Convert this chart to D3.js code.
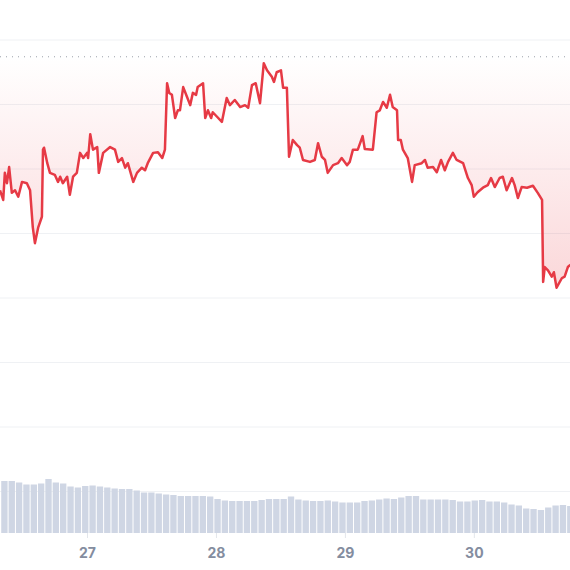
<!DOCTYPE html>
<html>
<head>
<meta charset="utf-8">
<script src="https://cdn.jsdelivr.net/npm/d3@7"></script>
<style>
	body { margin: 0; background: #fff; }
	svg { display: block; }
	.tick text { font-family: Inter, "Open Sans", sans-serif; font-weight: 700; font-size: 14px; fill: #848d9f; }
</style>
</head>
<body>
<svg id="chart"></svg>
<script>
// price series, time in hours since the 26th 00:00
var hours = [7.8, 8.4, 8.7, 9.1, 9.5, 10.0, 10.6, 11.2, 11.9, 12.8, 13.4, 13.9, 14.3, 14.9, 15.6, 15.8, 16.0, 16.6, 17.1, 18.0,
	18.6, 19.0, 19.5, 20.3, 20.8, 21.4, 22.1, 22.7, 23.3, 24.0, 24.2, 24.6, 25.1, 25.9, 26.2, 27.0, 28.3, 29.2, 29.8, 30.5,
	31.1, 31.6, 32.6, 33.3, 34.2, 34.8, 35.3, 36.3, 37.2, 38.0, 38.5, 38.9, 39.3, 39.8, 40.4, 40.9, 41.3, 41.9, 42.6, 43.2,
	43.7, 44.3, 44.6, 45.6, 46.0, 46.5, 47.1, 47.4, 48.2, 49.1, 50.0, 50.6, 51.5, 52.5, 53.4, 54.0, 54.7, 55.4, 56.2, 56.9,
	57.5, 58.4, 58.8, 59.3, 60.1, 60.5, 61.2, 61.6, 62.3, 63.1, 63.6, 64.2, 65.5, 66.4, 67.0, 67.7, 68.3, 68.8, 69.8, 70.7,
	71.4, 72.4, 72.9, 73.5, 74.4, 75.3, 75.7, 77.2, 77.9, 78.5, 79.1, 79.8, 80.4, 80.9, 81.7, 81.9, 82.4, 82.8, 83.7, 84.5,
	85.0, 86.3, 86.9, 87.4, 88.4, 89.1, 89.9, 90.6, 91.2, 92.1, 92.8, 94.0, 94.9, 95.6, 96.0, 96.7, 97.7, 98.6, 99.2, 99.9,
	100.8, 101.4, 102.1, 103.1, 103.6, 104.2, 104.9, 105.9, 107.0, 107.9, 108.7, 108.9, 109.2, 109.8, 110.5, 110.9, 111.4, 112.4, 112.9, 113.5,
	113.9, 114.4];
var prices = [146.7, 145.2, 149.4, 147.8, 150.3, 146.3, 146.7, 145.7, 148.0, 147.8, 146.7, 141.0, 138.5, 140.9, 142.6, 153.0, 153.3, 150.9, 149.4, 149.1,
	148.0, 148.8, 147.8, 148.8, 146.0, 148.8, 149.4, 152.5, 151.7, 152.5, 151.7, 155.4, 153.0, 153.4, 149.4, 152.5, 153.4, 153.0, 151.1, 151.7,
	150.2, 150.9, 148.0, 149.4, 150.2, 149.8, 150.9, 152.5, 152.6, 151.7, 153.0, 163.3, 161.8, 161.5, 157.9, 159.1, 159.1, 162.7, 161.2, 159.9,
	161.8, 161.5, 162.7, 163.3, 157.9, 159.1, 157.9, 158.8, 158.1, 157.3, 161.0, 159.9, 160.7, 159.6, 159.9, 159.5, 163.0, 163.3, 160.2, 166.4,
	165.3, 164.3, 163.5, 165.0, 165.3, 162.6, 162.6, 151.9, 154.5, 153.7, 153.3, 151.4, 151.1, 151.4, 154.0, 151.9, 151.4, 149.4, 150.6, 150.9,
	151.7, 150.6, 151.1, 153.0, 153.0, 155.1, 153.1, 153.0, 158.8, 159.1, 160.4, 159.5, 161.5, 159.6, 159.1, 154.5, 154.5, 153.0, 151.7, 148.0,
	150.6, 150.9, 151.4, 150.2, 150.3, 149.5, 151.4, 149.8, 151.1, 152.5, 151.4, 150.9, 148.6, 147.5, 145.7, 146.4, 147.1, 147.5, 148.6, 147.2,
	148.6, 148.8, 146.7, 148.6, 147.5, 145.5, 147.2, 147.1, 147.4, 146.3, 145.2, 132.5, 134.8, 134.3, 133.3, 134.0, 131.6, 133.1, 133.3, 134.8,
	135.1, 135.2];
var openPrice = 167.4;
var priceLevels = [170, 160, 150, 140, 130, 120, 110, 100];

// volume bars (millions), one per interval starting at volStart
var volStart = 8.62;
var volStep = 1.368;
var volumes = [104, 104, 101, 97, 97, 99, 108, 101, 99, 93,
	91, 94, 95, 93, 91, 89, 88, 88, 85, 81,
	81, 79, 77, 76, 74, 74, 74, 74, 73, 68,
	65, 64, 64, 64, 64, 66, 68, 68, 68, 73,
	67, 65, 64, 64, 65, 63, 61, 61, 61, 64,
	65, 67, 69, 68, 71, 74, 74, 67, 67, 67,
	67, 66, 63, 63, 65, 66, 63, 63, 61, 57,
	55, 49, 48, 46, 51, 55, 56, 54];

var tickHours = [24, 48, 72, 96];
var tickLabels = ["27", "28", "29", "30"];

var width = 570, height = 570;
var viewStart = 7.8, viewEnd = 113.9;

var svg = d3.select("#chart").attr("width", width).attr("height", height);

var x = d3.scaleLinear().domain([viewStart, viewEnd]).range([0, width]);
var y = d3.scaleLinear().domain([100, 170]).range([491.5, 40]);
var yVol = d3.scaleLinear().domain([0, 200]).range([533, 433]);

var series = hours.map(function(h, i) { return { h: h, p: prices[i] }; });

// gradient for the area between the open price and the line
var defs = svg.append("defs");
var grad = defs.append("linearGradient")
	.attr("id", "fillGrad")
	.attr("gradientUnits", "userSpaceOnUse")
	.attr("x1", 0).attr("x2", 0)
	.attr("y1", y(openPrice)).attr("y2", y(d3.min(prices)));
grad.append("stop").attr("offset", 0).attr("stop-color", "#ea3943").attr("stop-opacity", 0.0);
grad.append("stop").attr("offset", 1).attr("stop-color", "#ea3943").attr("stop-opacity", 0.2);

// grid
svg.append("g").selectAll("line")
	.data(priceLevels)
	.enter().append("line")
	.attr("x1", 0).attr("x2", width)
	.attr("y1", function(d) { return y(d); })
	.attr("y2", function(d) { return y(d); })
	.attr("stroke", "#eff1f4")
	.attr("stroke-width", 1);

// volume
var barW = x(viewStart + volStep) - x(viewStart) - 1;
svg.append("g").selectAll("rect")
	.data(volumes)
	.enter().append("rect")
	.attr("x", function(d, i) { return x(volStart + i * volStep) - barW / 2; })
	.attr("width", barW)
	.attr("y", function(d) { return yVol(d); })
	.attr("height", function(d) { return yVol(0) - yVol(d); })
	.attr("fill", "#cfd6e4");

// x axis
var axis = d3.axisBottom(x)
	.tickValues(tickHours)
	.tickFormat(function(d, i) { return tickLabels[i]; })
	.tickSize(5)
	.tickPadding(10);
var gx = svg.append("g").attr("transform", "translate(0," + yVol(0) + ")").call(axis);
gx.select(".domain").remove();
gx.selectAll(".tick line").attr("stroke", "#e3e6eb");
gx.selectAll(".tick text").attr("fill", null).attr("font-family", null).attr("font-size", null).attr("y", 15.5);

// area and line
var area = d3.area()
	.x(function(d) { return x(d.h); })
	.y0(y(openPrice))
	.y1(function(d) { return y(d.p); });
svg.append("path").datum(series)
	.attr("d", area)
	.attr("fill", "url(#fillGrad)");

// open price reference
svg.append("line")
	.attr("x1", 0).attr("x2", width)
	.attr("y1", y(openPrice)).attr("y2", y(openPrice))
	.attr("stroke", "#9aa0aa")
	.attr("stroke-width", 1)
	.attr("stroke-dasharray", "1,5");

var line = d3.line()
	.x(function(d) { return x(d.h); })
	.y(function(d) { return y(d.p); });
svg.append("path").datum(series)
	.attr("d", line)
	.attr("fill", "none")
	.attr("stroke", "#e63a45")
	.attr("stroke-width", 2.5)
	.attr("stroke-linejoin", "round");
</script>
</body>
</html>
